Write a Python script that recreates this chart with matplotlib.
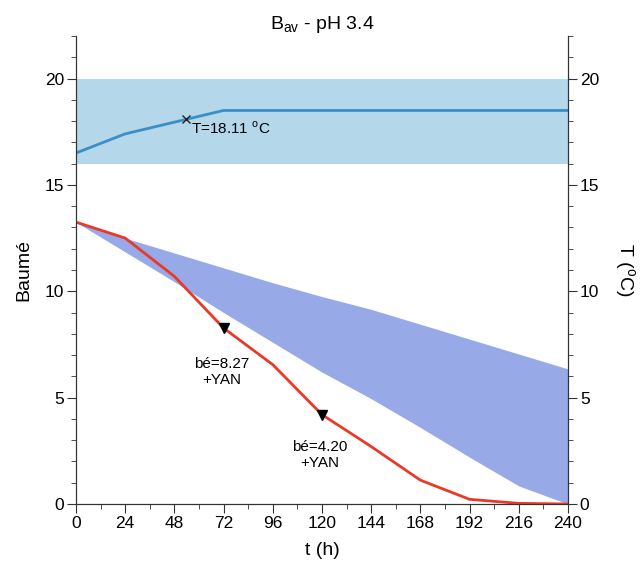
import numpy as np
import matplotlib.pyplot as plt
from matplotlib.ticker import MultipleLocator

plt.rcParams['font.family'] = ['Liberation Sans', 'DejaVu Sans']

# time axis (h)
t = [0, 24, 48, 72, 96, 120, 144, 168, 192, 216, 240]

# baume measured
baume = [13.25, 12.5, 10.7, 8.27, 6.55, 4.20, 2.7, 1.12, 0.22, 0.03, 0.0]

# expected baume envelope
env_upper = [13.25, 12.5, 11.8, 11.1, 10.4, 9.75, 9.15, 8.45, 7.75, 7.05, 6.35]
env_lower = [13.25, 11.85, 10.45, 9.0, 7.6, 6.2, 4.95, 3.6, 2.2, 0.85, 0.0]

# temperature
temp = [16.5, 17.4, 17.95, 18.5, 18.5, 18.5, 18.5, 18.5, 18.5, 18.5, 18.5]
temp_band = [16, 20]
t_mark, temp_mark = 53.5, 18.11

# YAN additions
yan_t = [72, 120]
yan_be = [8.27, 4.20]

fig = plt.figure(figsize=(6.44, 5.67), dpi=100)
ax = fig.add_axes([76/644, 63/567, 492/644, 468/567])

ax.axhspan(temp_band[0], temp_band[1], color='#b4d7ea', lw=0, zorder=0)
ax.fill_between(t, env_lower, env_upper, color='#97a9e6', lw=0, zorder=1)
ax.plot(t, temp, color='#3b8fc7', lw=2, zorder=2)
ax.plot([t_mark], [temp_mark], marker='x', color='#222222', ms=6, mew=1, zorder=4)
ax.text(56, 17.65, 'T=18.11 $^{\\mathregular{o}}$C', fontsize=11, va='center', ha='left')

ax.plot(t, baume, color='#e8392a', lw=2, zorder=3)
ax.plot(yan_t, yan_be, 'v', color='black', ms=7, zorder=4)
ax.text(71, 6.2, 'bé=8.27\n+YAN', fontsize=11, ha='center', va='center', linespacing=1.2)
ax.text(119, 2.3, 'bé=4.20\n+YAN', fontsize=11, ha='center', va='center', linespacing=1.2)

ax.set_xlim(0, 240)
ax.set_ylim(0, 22)
ax.xaxis.set_major_locator(MultipleLocator(24))
ax.xaxis.set_minor_locator(MultipleLocator(12))
ax.yaxis.set_major_locator(MultipleLocator(5))
ax.yaxis.set_minor_locator(MultipleLocator(1))
ax.tick_params(which='both', direction='out', labelsize=12.5, color='#333333', pad=2)
ax.tick_params(which='major', length=6.5)
ax.tick_params(which='minor', length=3.5)
ax.spines['top'].set_visible(False)
for s in ax.spines.values():
    s.set_color('#333333')
ax.set_xlabel('t (h)', fontsize=14, labelpad=8)
ax.set_ylabel('Baumé', fontsize=14, labelpad=9)
ax.set_title('B$_{\\mathregular{av}}$ - pH 3.4', fontsize=14, pad=5)

ax2 = ax.twinx()
ax2.set_ylim(0, 22)
ax2.yaxis.set_major_locator(MultipleLocator(5))
ax2.yaxis.set_minor_locator(MultipleLocator(1))
ax2.tick_params(which='both', direction='out', labelsize=12.5, color='#333333', pad=2)
ax2.tick_params(which='major', length=6.5)
ax2.tick_params(which='minor', length=3.5)
ax2.spines['top'].set_visible(False)
for s in ax2.spines.values():
    s.set_color('#333333')
ax2.set_ylabel('T ($^{\\mathregular{o}}$C)', fontsize=14, rotation=270, labelpad=27)

fig.savefig('out.png', dpi=100)
